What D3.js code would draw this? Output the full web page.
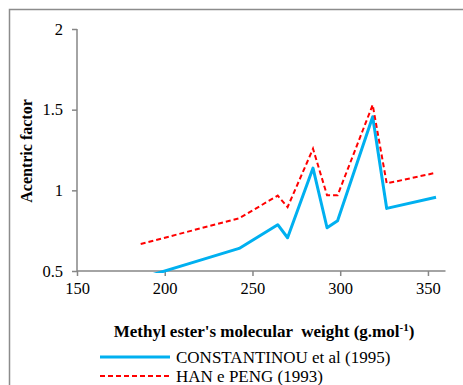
<!DOCTYPE html>
<html>
<head>
<meta charset="utf-8">
<script src="https://cdn.jsdelivr.net/npm/d3@7"></script>
<style>
  html, body { margin: 0; padding: 0; background: #fff; }
  svg { display: block; }
</style>
</head>
<body>
<svg id="chart" width="463" height="385" font-family="Liberation Serif"></svg>
<script>
// Molecular weight of each methyl ester (g/mol)
const molecularWeight = [186.3, 214.3, 242.4, 264.4, 270.0, 284.5, 292.5, 298.5, 318.5, 326.5, 354.6];
// Acentric factor estimated by each method
const constantinou = [0.455, 0.547, 0.640, 0.787, 0.706, 1.138, 0.768, 0.812, 1.456, 0.888, 0.957];
const hanPeng      = [0.667, 0.747, 0.827, 0.967, 0.896, 1.258, 0.969, 0.969, 1.530, 1.043, 1.109];
const xTicks = [150, 200, 250, 300, 350];
const yTicks = [0.5, 1, 1.5, 2];
const seriesNames = ["CONSTANTINOU et al (1995)", "HAN e PENG (1993)"];

const FONT = "Liberation Serif";
const svg = d3.select("#chart");
const axisColor = "#868686";

// Outer chart frame
svg.append("rect")
  .attr("x", 9.5).attr("y", 9.5)
  .attr("width", 470).attr("height", 400)
  .attr("fill", "none").attr("stroke", "#8c8c8c").attr("stroke-width", 1.5);

const x = d3.scaleLinear().domain([150, 360]).range([77, 445.5]);
const y = d3.scaleLinear().domain([0.5, 2]).range([271, 29]);

// Y axis
const yAxis = svg.append("g").attr("transform", `translate(${x(150)},0)`)
  .call(d3.axisLeft(y).tickValues(yTicks).tickSize(5).tickPadding(9)
    .tickFormat(d => String(d)));
yAxis.attr("font-family", FONT).attr("font-size", 16.5);
yAxis.select(".domain").attr("stroke", axisColor).attr("stroke-width", 1.5).attr("d", `M0,${y(2)}V${y(0.5)}`);
yAxis.selectAll(".tick line").attr("stroke", axisColor).attr("stroke-width", 1.5);
yAxis.selectAll(".tick text").attr("fill", "#000");

// X axis
const xAxis = svg.append("g").attr("transform", `translate(0,${y(0.5)})`)
  .call(d3.axisBottom(x).tickValues(xTicks).tickSize(5).tickPadding(6));
xAxis.attr("font-family", FONT).attr("font-size", 16.5);
xAxis.select(".domain").attr("stroke", axisColor).attr("stroke-width", 1.5).attr("d", `M${x(150)},0H${x(360)}`);
xAxis.selectAll(".tick line").attr("stroke", axisColor).attr("stroke-width", 1.5);
xAxis.selectAll(".tick text").attr("fill", "#000");

// Plot clip so values under the axis minimum are cut at the axis
svg.append("clipPath").attr("id", "plot-clip")
  .append("rect").attr("x", x(150)).attr("y", y(2) - 5)
  .attr("width", x(360) - x(150) + 5).attr("height", y(0.5) - y(2) + 7);

const line = d3.line().x(d => x(d[0])).y(d => y(d[1]));
const plot = svg.append("g").attr("clip-path", "url(#plot-clip)");

plot.append("path")
  .datum(molecularWeight.map((m, i) => [m, constantinou[i]]))
  .attr("d", line).attr("fill", "none")
  .attr("stroke", "#00b0f0").attr("stroke-width", 3).attr("stroke-linejoin", "round");

plot.append("path")
  .datum(molecularWeight.map((m, i) => [m, hanPeng[i]]))
  .attr("d", line).attr("fill", "none")
  .attr("stroke", "#ff0000").attr("stroke-width", 2).attr("stroke-dasharray", "5,3");

// Axis titles
svg.append("text")
  .attr("transform", `translate(32,151) rotate(-90)`)
  .attr("text-anchor", "middle").attr("font-family", FONT)
  .attr("font-size", 16).attr("font-weight", "bold")
  .text("Acentric factor");

const xt = svg.append("text")
  .attr("x", 264).attr("y", 337)
  .attr("text-anchor", "middle").attr("font-family", FONT)
  .attr("font-size", 17).attr("font-weight", "bold")
  .attr("xml:space", "preserve");
xt.append("tspan").text("Methyl ester's molecular  weight (g.mol");
xt.append("tspan").attr("font-size", 11).attr("dy", -6).text("-1");
xt.append("tspan").attr("dy", 6).text(")");

// Legend
const legend = svg.append("g").attr("font-family", FONT).attr("font-size", 17);
legend.append("line").attr("x1", 100).attr("x2", 170).attr("y1", 357).attr("y2", 357)
  .attr("stroke", "#00b0f0").attr("stroke-width", 3);
legend.append("text").attr("x", 176).attr("y", 363).text(seriesNames[0]);
legend.append("line").attr("x1", 100).attr("x2", 170).attr("y1", 376).attr("y2", 376)
  .attr("stroke", "#ff0000").attr("stroke-width", 2).attr("stroke-dasharray", "5,3");
legend.append("text").attr("x", 176).attr("y", 381.5).text(seriesNames[1]);
</script>
</body>
</html>
